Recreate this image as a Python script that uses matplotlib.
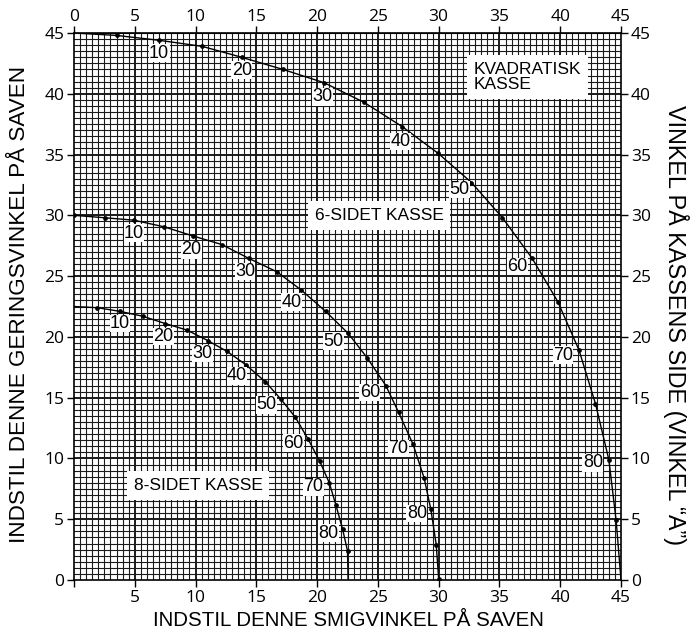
import matplotlib.pyplot as plt
import numpy as np

# aflæste punkter for hver 5. grad af vinkel A (0..90)
sq_x = [0, 3.5, 7.0, 10.55, 13.8, 17.2, 20.6, 23.85, 27.0, 29.96, 32.7, 35.25, 37.7, 39.8, 41.55, 42.9, 44.0, 44.6, 45.0]
sq_y = [45.0, 44.8, 44.4, 43.9, 43.0, 42.0, 40.9, 39.3, 37.3, 35.1, 32.7, 29.8, 26.45, 22.9, 18.9, 14.5, 9.9, 4.9, 0.0]

hex_x = [0, 2.55, 4.93, 7.43, 9.8, 12.15, 14.4, 16.7, 18.7, 20.7, 22.55, 24.1, 25.65, 26.7, 27.9, 28.8, 29.36, 29.8, 30.0]
hex_y = [30.0, 29.8, 29.6, 29.05, 28.3, 27.6, 26.45, 25.35, 23.85, 22.1, 20.3, 18.3, 16.0, 13.8, 11.15, 8.4, 5.8, 2.9, 0.1]

oct_x = [0, 1.92, 3.78, 5.65, 7.5, 9.3, 11.0, 12.6, 14.15, 15.75, 17.0, 18.2, 19.27, 20.2, 21.0, 21.55, 22.1, 22.5, 22.55]
oct_y = [22.5, 22.4, 22.1, 21.7, 21.1, 20.56, 19.7, 18.8, 17.7, 16.3, 14.9, 13.4, 11.57, 9.8, 8.0, 6.15, 4.17, 2.4, 0.0]

angle_labels = [10, 20, 30, 40, 50, 60, 70, 80]
ticks = [0, 5, 10, 15, 20, 25, 30, 35, 40, 45]

# label offsets in pixels (dx, dy) relative to the dot
sq_off = [(0, -13), (0, -13), (-2, -14), (-2, -15), (-12, -7), (-15, -8), (-16, -5), (-16, -3)]
hex_off = [(0, -13), (-2, -14), (-4, -13), (-10, -12), (-15, -8), (-16, -7), (-15, -4), (-14, -4)]
oct_off = [(0, -12), (-2, -13), (-5, -13), (-9, -11), (-14, -6), (-15, -4), (-16, -4), (-14, -4)]

plt.rcParams['font.family'] = ['Liberation Sans', 'DejaVu Sans']

fig = plt.figure(figsize=(6.96, 6.35), dpi=100)
ax = fig.add_axes([74 / 696, 55 / 635, 547 / 696, 547 / 635])
ax.set_xlim(0, 45)
ax.set_ylim(0, 45)

# grid
for v in np.arange(0.5, 45, 0.5):
    lw = 1.4 if v % 5 == 0 else 0.8
    ax.axvline(v, color='#1a1a1a', lw=lw, zorder=1)
    ax.axhline(v, color='#1a1a1a', lw=lw, zorder=1)

curves = [(sq_x, sq_y, sq_off, False), (hex_x, hex_y, hex_off, True), (oct_x, oct_y, oct_off, False)]
for xs, ys, offs, end_dots in curves:
    ax.plot(xs, ys, color='black', lw=1.0, zorder=3)
    if end_dots:
        ax.plot(xs, ys, 'o', color='black', ms=2.4, zorder=4)
    else:
        ax.plot(xs[1:-1], ys[1:-1], 'o', color='black', ms=2.4, zorder=4)
    for i, lab in enumerate(angle_labels):
        k = lab // 5
        dx, dy = offs[i]
        ax.annotate(str(lab), (xs[k], ys[k]), xytext=(dx * 0.72, dy * 0.72),
                    textcoords='offset points', ha='center', va='center',
                    fontsize=13, zorder=5,
                    bbox=dict(boxstyle='square,pad=0.02', fc='white', ec='none'))

box = dict(boxstyle='square,pad=0.4', fc='white', ec='none')
ax.text(32.9, 41.4, 'KVADRATISK\nKASSE', fontsize=12.5, linespacing=1.0, va='center', ha='left', bbox=box, zorder=5)
ax.text(19.8, 30.0, '6-SIDET KASSE', fontsize=12.5, va='center', ha='left', bbox=box, zorder=5)
ax.text(4.9, 7.8, '8-SIDET KASSE', fontsize=12.5, va='center', ha='left', bbox=box, zorder=5)

tick_font = {'family': 'Open Sans', 'size': 12.5}
ax.set_xticks(ticks)
ax.set_xticklabels([''] + [str(t) for t in ticks[1:]], fontdict=tick_font)
ax.set_yticks(ticks)
ax.set_yticklabels([str(t) for t in ticks], fontdict=tick_font)
ax.tick_params(direction='out', length=5, width=1, pad=2, right=True, labelright=True)
for t in ax.yaxis.get_major_ticks():
    t.label2.set_fontfamily('Open Sans')
    t.label2.set_fontsize(12.5)

top = ax.secondary_xaxis('top')
top.set_xticks(ticks)
top.set_xticklabels([str(t) for t in ticks], fontdict=tick_font)
top.tick_params(direction='out', length=5, width=1, pad=1)

for s in ax.spines.values():
    s.set_linewidth(1.2)

fig.text(348 / 696, 1 - 621 / 635, 'INDSTIL DENNE SMIGVINKEL PÅ SAVEN', fontsize=14.8, ha='center', va='center')
fig.text(20 / 696, 1 - 304 / 635, 'INDSTIL DENNE GERINGSVINKEL PÅ SAVEN', fontsize=16.2, ha='center', va='center', rotation=90)
fig.text(676 / 696, 1 - 325 / 635, 'VINKEL PÅ KASSENS SIDE (VINKEL “A”)', fontsize=16.8, ha='center', va='center', rotation=270)

fig.savefig('out.png', dpi=100)
